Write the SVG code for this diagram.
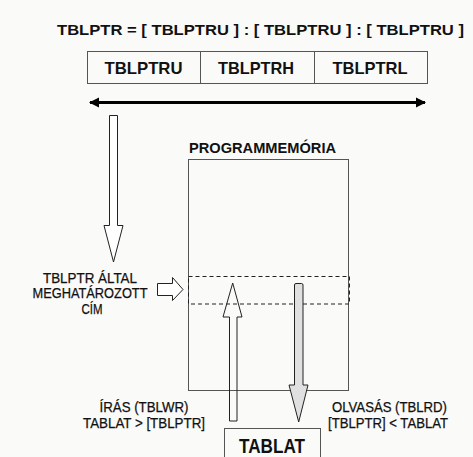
<svg xmlns="http://www.w3.org/2000/svg" width="473" height="457" viewBox="0 0 473 457">
  <style>
    .bold { font-family: "Liberation Sans", Arial, sans-serif; font-weight: bold; fill: #111; }
    .lbl { font-family: "Liberation Sans", Arial, sans-serif; fill: #111; font-size: 14px; stroke: #111; stroke-width: 0.25; }
    .box { fill: none; stroke: #555; stroke-width: 1; }
    .hollow { fill: #fff; stroke: #222; stroke-width: 1; }
    .dash { fill: none; stroke: #222; stroke-width: 1; stroke-dasharray: 4 3; }
  </style>
  <defs>
    <marker id="head" viewBox="0 0 10 10" refX="9" refY="5" markerWidth="3.4" markerHeight="3.4" orient="auto-start-reverse" markerUnits="strokeWidth">
      <path d="M0,0 L10,5 L0,10 Z" fill="#000"/>
    </marker>
  </defs>

  <rect width="473" height="457" fill="#fafaf8"/>

  <!-- pointer formula -->
  <text id="formula" class="bold" x="57" y="35" font-size="15.5" textLength="407" lengthAdjust="spacingAndGlyphs">TBLPTR = [ TBLPTRU ] : [ TBLPTRU ] : [ TBLPTRU ]</text>

  <!-- table pointer register -->
  <g id="register">
    <rect class="box" x="87.5" y="51.5" width="340" height="32"/>
    <line class="box" x1="200.5" y1="51.5" x2="200.5" y2="83.5"/>
    <line class="box" x1="314.5" y1="51.5" x2="314.5" y2="83.5"/>
    <text class="bold" x="143.5" y="74" font-size="16.5" text-anchor="middle" textLength="78" lengthAdjust="spacingAndGlyphs">TBLPTRU</text>
    <text class="bold" x="256" y="74" font-size="16.5" text-anchor="middle" textLength="76" lengthAdjust="spacingAndGlyphs">TBLPTRH</text>
    <text class="bold" x="370" y="74" font-size="16.5" text-anchor="middle" textLength="75" lengthAdjust="spacingAndGlyphs">TBLPTRL</text>
  </g>

  <!-- program memory -->
  <g id="programmemoria">
    <text class="bold" x="189" y="153" font-size="15.5" textLength="147" lengthAdjust="spacingAndGlyphs">PROGRAMMEMÓRIA</text>
    <rect class="box" x="188.5" y="159.5" width="160" height="231"/>
    <rect class="dash" x="188.5" y="276.5" width="161" height="27.5"/>
  </g>

  <!-- TABLAT register -->
  <g id="tablat">
    <rect class="box" x="224.5" y="428.5" width="96" height="40"/>
    <text class="bold" x="272" y="453" font-size="20" text-anchor="middle" textLength="66" lengthAdjust="spacingAndGlyphs">TABLAT</text>
  </g>

  <!-- address label -->
  <g id="cim">
    <text class="lbl" x="90" y="282.5" text-anchor="middle" textLength="94" lengthAdjust="spacingAndGlyphs">TBLPTR ÁLTAL</text>
    <text class="lbl" x="90" y="298" text-anchor="middle" textLength="115" lengthAdjust="spacingAndGlyphs">MEGHATÁROZOTT</text>
    <text class="lbl" x="92" y="314" text-anchor="middle" textLength="21" lengthAdjust="spacingAndGlyphs">CÍM</text>
  </g>

  <!-- write / read labels -->
  <g id="iras">
    <text class="lbl" x="144" y="411.5" text-anchor="middle" textLength="89" lengthAdjust="spacingAndGlyphs">ÍRÁS (TBLWR)</text>
    <text class="lbl" x="144" y="427.5" text-anchor="middle" textLength="122" lengthAdjust="spacingAndGlyphs">TABLAT &gt; [TBLPTR]</text>
  </g>
  <g id="olvasas">
    <text class="lbl" x="389.5" y="411.5" text-anchor="middle" textLength="115" lengthAdjust="spacingAndGlyphs">OLVASÁS (TBLRD)</text>
    <text class="lbl" x="388" y="427.5" text-anchor="middle" textLength="120" lengthAdjust="spacingAndGlyphs">[TBLPTR] &lt; TABLAT</text>
  </g>

  <!-- connectors -->
  <g id="connectors">
    <line x1="90" y1="102.5" x2="425" y2="102.5" stroke="#000" stroke-width="3" marker-start="url(#head)" marker-end="url(#head)"/>
    <path class="hollow" d="M109.5,115.5 L117.5,115.5 L117.5,225.5 L123,225.5 L113.5,262 L104,225.5 L109.5,225.5 Z"/>
    <path class="hollow" d="M157.5,283.5 L172.5,283.5 L172.5,277.5 L183,289.5 L172.5,300.5 L172.5,295.5 L157.5,295.5 Z"/>
    <path d="M229.5,421 L229.5,317 L223,317 L232.7,283 L242,317 L237,317 L237,421 Z" fill="none" stroke="#222" stroke-width="1"/>
    <path d="M294.5,285 Q294.5,283.5 296,283.5 L301.5,283.5 Q303,283.5 303,285 L303,385 L308,385 L298.7,422 L289,385 L294.5,385 Z" fill="#e0e0e0" stroke="#222" stroke-width="1"/>
  </g>
</svg>
